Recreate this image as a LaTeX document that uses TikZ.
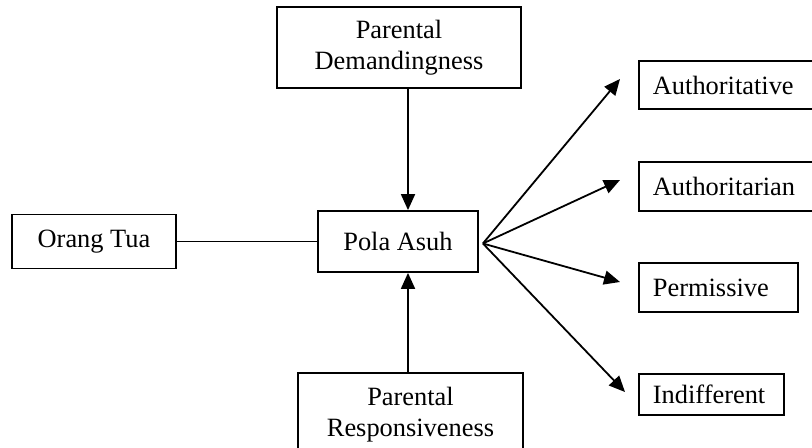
\documentclass[tikz,border=0pt]{standalone}
\usepackage{fontspec}
\setmainfont{Liberation Serif}
\usetikzlibrary{arrows.meta,positioning}
\tikzset{
  box/.style={draw,line width=0.9pt,align=center,inner sep=0pt,
    font=\fontsize{13.2}{15.5}\selectfont},
  choice/.style={draw,line width=0.9pt,anchor=west,align=left,inner xsep=7pt,
    inner ysep=0pt,font=\fontsize{13.2}{15.5}\selectfont},
  arrow/.style={-{Triangle[length=8pt,width=7pt]},line width=0.9pt},
  link/.style={line width=0.9pt}
}
\begin{document}
\begin{tikzpicture}[x=0.5pt,y=-0.5pt]
  \useasboundingbox (0,0) rectangle (812,448);
  % central part
  \node[box,minimum width=80pt,minimum height=30.5pt] (pola) at (398,241.5) {Pola Asuh};
  \node[box,minimum width=82pt,minimum height=27pt] (orang) at (94,241.5) {Orang Tua};
  \node[box,minimum width=122pt,minimum height=40.5pt] (demand) at (399,47.5) {Parental\\Demandingness};
  \node[box,minimum width=112.5pt,minimum height=41.5pt] (resp) at (410.5,414.5) {Parental\\Responsiveness};
  % styles of parenting
  \node[choice,text width=74.5pt,minimum height=24pt] (auth) at (638,85) {Authoritative};
  \node[choice,text width=74.5pt,minimum height=24.5pt] (autr) at (638,186.5) {Authoritarian};
  \node[choice,text width=65.5pt,minimum height=24.5pt] (perm) at (638,287.5) {Permissive};
  \node[choice,text width=58.5pt,minimum height=20.5pt] (indif) at (638,394.5) {Indifferent};
  \coordinate (fan) at ([xshift=2pt,yshift=-1pt]pola.east);
  \draw[link] (orang.east) -- (pola.west);
  \draw[arrow] ([xshift=5pt]pola.north |- demand.south) -- ([xshift=5pt]pola.north);
  \draw[arrow] ([xshift=5pt]pola.south |- resp.north) -- ([xshift=5pt]pola.south);
  \draw[arrow] (fan) -- ([xshift=-9pt,yshift=3pt]auth.west);
  \draw[arrow] (fan) -- ([xshift=-9pt,yshift=3.25pt]autr.west);
  \draw[arrow] (fan) -- ([xshift=-9pt,yshift=2.75pt]perm.west);
  \draw[arrow] (fan) -- ([xshift=-6.5pt,yshift=1.25pt]indif.west);
\end{tikzpicture}
\end{document}
